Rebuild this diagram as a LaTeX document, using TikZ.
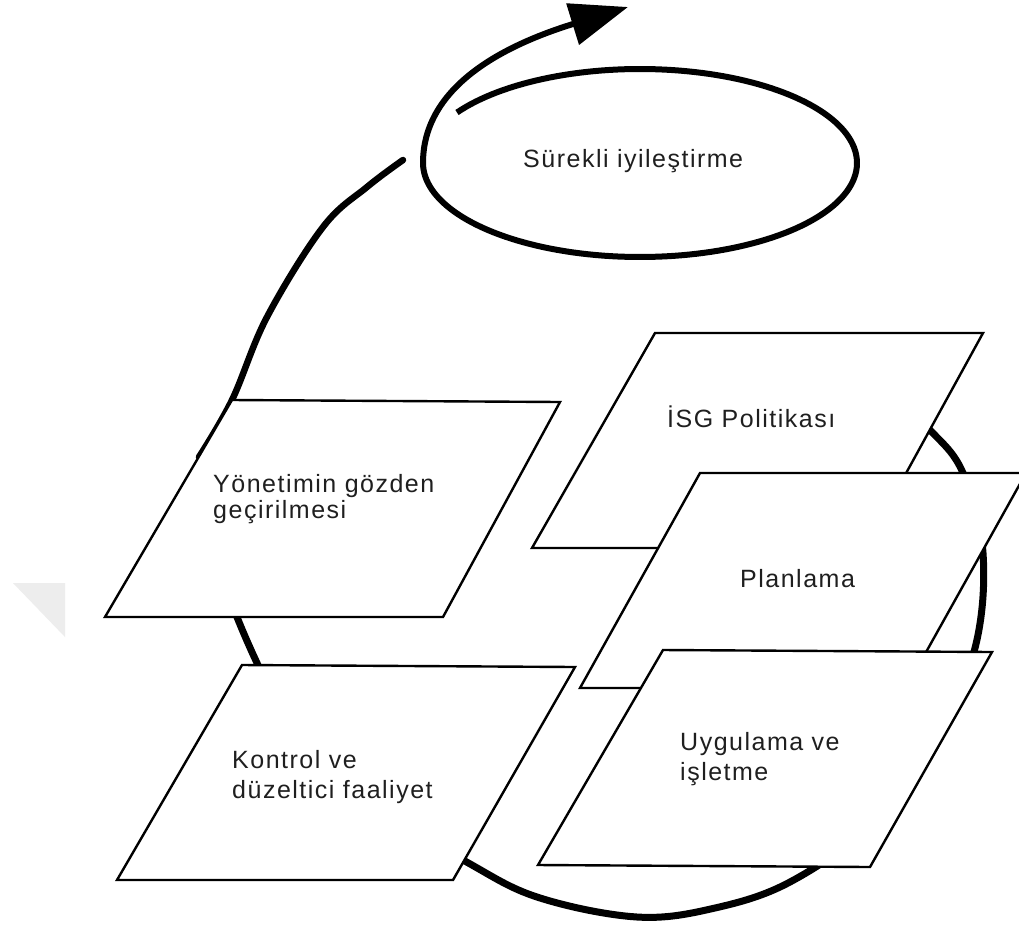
\documentclass[tikz,border=0pt]{standalone}
\usepackage{fontspec}
\setmainfont{Liberation Sans}[LetterSpace=6]
\usetikzlibrary{arrows.meta}
\begin{document}
\begin{tikzpicture}[x=1pt,y=-1pt]
\tikzset{
  panel/.style={draw=black, line width=2.4pt, fill=white, line join=miter},
  loopline/.style={line width=7pt, line cap=round, line join=round},
  ring/.style={line width=6pt, line join=round},
  lab/.style={font=\fontsize{25}{28}\selectfont, anchor=base west, inner sep=0pt, text=black!88},
}
\useasboundingbox (0,0) rectangle (1019,924);
\clip (0,0) rectangle (1019,924);
\fill[white] (0,0) rectangle (1019,924);
% faint watermark triangle
\fill[black!7] (13,583) -- (65,583) -- (65,637) -- cycle;
% big cycle behind the panels
\draw[loopline] plot[smooth, tension=0.6] coordinates {(880,385) (930,430) (963,473) (983,553) (975,648) (935,740) (870,825) (790,882) (715,908) (637,917) (537,897) (463,860) (360,800) (285,720) (257,663) (237,617) (226,585)};
% arc from review panel up to the improvement ellipse
\coordinate (arcA) at (199,457);
\coordinate (arcB) at (403,160);
\draw[line width=6.5pt, line cap=round] plot[smooth, tension=0.6] coordinates {(arcA) (232,400) (267,317) (323,227) (367,187) (arcB)};
% improvement spiral with arrow
\coordinate (tip) at (628,7);
\draw[ring, -{Triangle[length=58pt,width=42pt]}] plot[domain=0:327.5, samples=160, variable=\t] ({640+217*cos(147.5-\t)}, {163-94*sin(147.5-\t)}) .. controls (423,80) and (518,41) .. (tip);
% panels
\draw[panel] (232,400) -- (560,402) -- (443,617) -- (105,617) -- cycle;
\draw[panel] (242,665) -- (575,667) -- (453,880) -- (117,880) -- cycle;
\draw[panel] (655,333) -- (983,333) -- (865,548) -- (532,548) -- cycle;
\draw[panel] (700,473) -- (1026,473) -- (906,688) -- (580,688) -- cycle;
\draw[panel] (663,650) -- (992,652) -- (870,867) -- (538,865) -- cycle;
% labels
\node[lab] (s1) at (523,167) {Sürekli iyileştirme};
\node[lab] (y1) at (213,492) {Yönetimin gözden};
\node[lab] (y2) at (213,518) {geçirilmesi};
\node[lab] (i1) at (667,427) {İSG Politikası};
\node[lab] (p1) at (740,587) {Planlama};
\node[lab] (u1) at (680,750) {Uygulama ve};
\node[lab] (u2) at (680,780) {işletme};
\node[lab] (k1) at (232,768) {Kontrol ve};
\node[lab] (k2) at (232,798) {düzeltici faaliyet};
\end{tikzpicture}
\end{document}
